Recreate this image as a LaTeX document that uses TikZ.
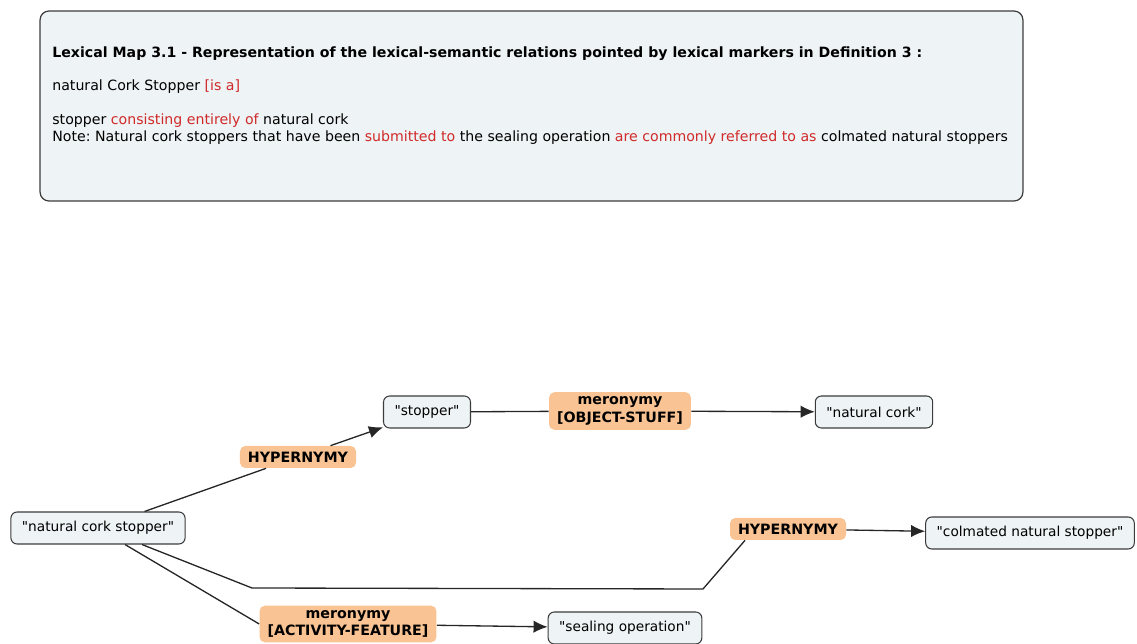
\documentclass[tikz,border=0pt]{standalone}
\usepackage{fontspec}
\setmainfont{DejaVu Sans}
\usetikzlibrary{arrows.meta,positioning}
\frenchspacing

\definecolor{boxfill}{HTML}{EEF3F5}
\definecolor{relfill}{HTML}{F9C393}
\definecolor{markred}{HTML}{D02A2A}
\definecolor{edgegray}{HTML}{3C3C3C}
\newcommand{\mk}[1]{\textcolor{markred}{#1}}
\newcommand{\qt}[1]{\textquotedbl#1\textquotedbl}

\tikzset{
  concept/.style={draw=edgegray, fill=boxfill, rounded corners=3.5pt,
    line width=0.6pt, minimum height=0.64cm, inner xsep=0.22cm,
    font=\fontsize{7.8}{9}\selectfont},
  relation/.style={fill=relfill, rounded corners=3pt, inner xsep=0.16cm,
    inner ysep=2.6pt, minimum height=0.44cm, align=center,
    font=\fontsize{8.1}{10}\selectfont\bfseries},
  plaintext/.style={anchor=west, inner sep=0pt, font=\fontsize{8.05}{9}\selectfont},
  link/.style={draw=black!85, line width=0.75pt},
  >={Latex[length=8pt,width=7pt]}
}

\begin{document}
\begin{tikzpicture}[x=0.02cm, y=-0.02cm]
\useasboundingbox (0,0) rectangle (1137,644);

\node[draw=edgegray, fill=boxfill, rounded corners=5pt, line width=0.7pt,
  minimum width=19.66cm, minimum height=3.8cm] (lexbox) at (531.5,106) {};

\node[plaintext, font=\fontsize{8.05}{9}\selectfont\bfseries] (title) at (52,54)
{Lexical Map 3.1 - Representation of the lexical-semantic relations pointed by lexical markers in Definition 3 :};

\node[plaintext] (line1) at (52,87)
{natural Cork Stopper \mk{[is a]}};

\node[plaintext] (line2) at (52,121)
{stopper \mk{consisting entirely of} natural cork};

\node[plaintext] (line3) at (52,138)
{Note: Natural cork stoppers that have been \mk{submitted to} the sealing operation \mk{are commonly referred to as} colmated natural stoppers};

\node[concept] (ncs) at (98,528) {\qt{natural cork stopper}};
\node[concept] (stopper) at (427,412) {\qt{stopper}};
\node[concept] (natcork) at (874,412) {\qt{natural cork}};
\node[concept] (colmated) at (1030,533) {\qt{colmated natural stopper}};
\node[concept] (sealing) at (625,628) {\qt{sealing operation}};

\node[relation] (hyperA) at (298,457) {HYPERNYMY};
\node[relation] (objstuff) at (620,411) {meronymy\\{}[OBJECT-STUFF]};
\node[relation] (hyperB) at (788,529) {HYPERNYMY};
\node[relation] (actfeat) at (348,624) {meronymy\\{}[ACTIVITY-FEATURE]};

\coordinate (bendA) at (252,588);
\coordinate (bendB) at (703,589);

\draw[link] (ncs) -- (hyperA);
\draw[link,->] (hyperA) -- (stopper);

\draw[link] (stopper) -- (objstuff);
\draw[link,->] (objstuff) -- (natcork);

\draw[link] ([xshift=0.88cm]ncs.south) -- (bendA) -- (bendB) -- ([xshift=-0.86cm]hyperB.south);
\draw[link,->] (hyperB) -- (colmated);

\draw[link] ([xshift=0.54cm]ncs.south) -- (actfeat.west);
\draw[link,->] (actfeat) -- (sealing);

\end{tikzpicture}
\end{document}
